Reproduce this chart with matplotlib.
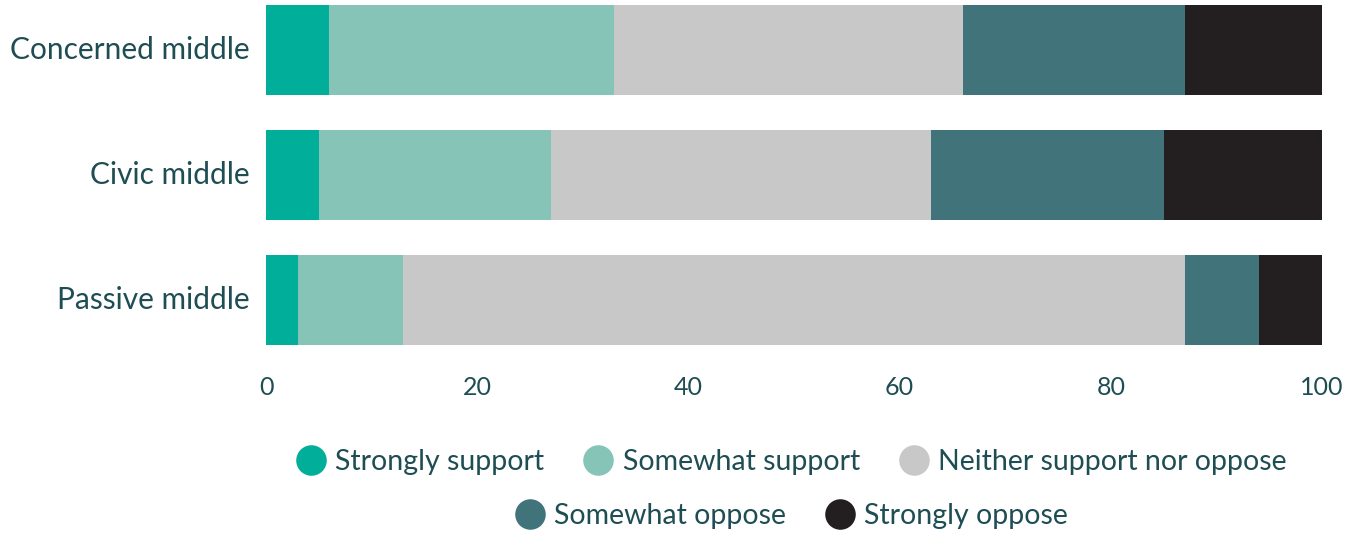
import matplotlib
matplotlib.use("Agg")
import matplotlib.pyplot as plt
from matplotlib.lines import Line2D

groups = ["Concerned middle", "Civic middle", "Passive middle"]
levels = ["Strongly support", "Somewhat support", "Neither support nor oppose",
          "Somewhat oppose", "Strongly oppose"]
strongly_support = [6, 5, 3]
somewhat_support = [27, 22, 10]
neither = [33, 36, 74]
somewhat_oppose = [21, 22, 7]
strongly_oppose = [13, 15, 6]
xticks = [0, 20, 40, 60, 80, 100]

colours = ["#00ae99", "#86c4b8", "#c8c8c8", "#40747a", "#231f20"]
TXT = "#1e4d53"

plt.rcParams["font.family"] = ["Lato", "DejaVu Sans"]

fig = plt.figure(figsize=(13.51, 5.33), dpi=100)
ax = fig.add_axes([0.1969, 0.3527, 0.9785 - 0.1969, 0.9906 - 0.3527])

series = [strongly_support, somewhat_support, neither, somewhat_oppose, strongly_oppose]
left = [0] * len(groups)
for vals, col, name in zip(series, colours, levels):
    ax.barh(range(len(groups)), vals, left=left, height=0.72, color=col,
            edgecolor="none", label=name)
    left = [l + v for l, v in zip(left, vals)]

ax.set_xlim(0, 100)
ax.set_ylim(2.36, -0.36)
ax.set_yticks(range(len(groups)))
ax.set_yticklabels(groups, fontsize=21.5, color=TXT, va="center")
for lab in ax.get_yticklabels():
    lab.set_y(lab.get_position()[1])
ax.set_xticks(xticks)
ax.set_xticklabels([str(t) for t in xticks], fontsize=18, color=TXT)
ax.tick_params(length=0)
ax.tick_params(axis="y", pad=12)
ax.tick_params(axis="x", pad=22)
for s in ax.spines.values():
    s.set_visible(False)

def handle(c):
    return Line2D([], [], marker="o", ls="none", ms=22, markerfacecolor=c,
                  markeredgecolor="none")

hs = [handle(c) for c in colours]
leg_kw = dict(frameon=False, fontsize=20.5, handletextpad=0.25, columnspacing=1.3,
              labelcolor=TXT, handlelength=1.2)
fig.legend(hs[:3], levels[:3], loc="center", ncol=3,
           bbox_to_anchor=(0.585, 1 - 462 / 533), **leg_kw)
fig.legend(hs[3:], levels[3:], loc="center", ncol=2,
           bbox_to_anchor=(0.585, 1 - 516 / 533), **leg_kw)

fig.savefig("out.png", dpi=100)
